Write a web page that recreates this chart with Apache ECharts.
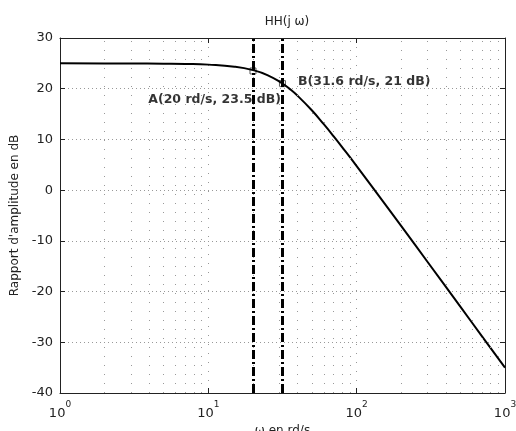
<!DOCTYPE html>
<html>
<head>
<meta charset="utf-8">
<script src="https://cdn.jsdelivr.net/npm/echarts@6/dist/echarts.min.js"></script>
<style>
  html, body { margin: 0; padding: 0; background: #fff; }
  #chart { width: 516px; height: 431px; }
</style>
</head>
<body>
<div id="chart"></div>
<script>
// magnitude curve
const omega = [1, 2, 3, 5, 7, 10, 15, 20, 25, 31.6, 35, 40, 50, 60, 70, 80, 100, 150, 200, 300, 500, 700, 1000];
const gainDb = [25.0, 24.99, 24.98, 24.94, 24.89, 24.75, 24.35, 23.67, 22.69, 21.03, 20.07, 18.6, 15.7, 13.0, 10.6, 8.44, 4.74, -2.16, -7.11, -14.12, -22.98, -28.82, -35.0];

const pointA = [20, 23.5];
const pointB = [31.6, 21];
const cursorLines = [20, 31.6];
const minorX = [2, 3, 4, 5, 6, 7, 8, 9, 20, 30, 40, 50, 60, 70, 80, 90, 200, 300, 400, 500, 600, 700, 800, 900];

const font = 'DejaVu Sans';
const chart = echarts.init(document.getElementById('chart'));

const boxAxis = {
    axisLine: { show: true, onZero: false, lineStyle: { color: '#222', width: 1 } },
    axisTick: { show: true, inside: true, length: 5, lineStyle: { color: '#222' } }
};

chart.setOption({
    animation: false,
    title: {
        text: 'HH(j ω)',
        left: 282, top: 11, textAlign: 'center',
        textStyle: { fontFamily: font, fontSize: 12, fontWeight: 'normal', color: '#222' }
    },
    grid: { left: 60, right: 11, top: 38, bottom: 38, outerBoundsMode: 'none', containLabel: false },
    xAxis: [
        Object.assign({
            type: 'log', logBase: 10, min: 1, max: 1000,
            name: 'ω en rd/s', nameLocation: 'middle', nameGap: 30,
            nameTextStyle: { fontFamily: font, fontSize: 12, color: '#222' },
            axisLabel: {
                margin: 7,
                formatter: v => '{b|10}{s|' + Math.round(Math.log10(v)) + '}',
                rich: {
                    b: { fontFamily: font, fontSize: 13, color: '#222', verticalAlign: 'bottom', lineHeight: 20 },
                    s: { fontFamily: font, fontSize: 9, color: '#222', verticalAlign: 'top', lineHeight: 9 }
                }
            },
            splitLine: { show: true, lineStyle: { color: '#999', type: [1, 8] } }
        }, boxAxis),
        Object.assign({
            type: 'log', logBase: 10, min: 1, max: 1000, position: 'top',
            axisLabel: { show: false }, splitLine: { show: false }
        }, boxAxis)
    ],
    yAxis: [
        Object.assign({
            type: 'value', min: -40, max: 30, interval: 10,
            name: "Rapport d'amplitude en dB", nameLocation: 'middle', nameGap: 33,
            nameTextStyle: { fontFamily: font, fontSize: 12, color: '#222' },
            axisLabel: { fontFamily: font, fontSize: 13, color: '#222', margin: 7 },
            splitLine: { show: true, lineStyle: { color: '#999', type: [1, 3] } }
        }, boxAxis),
        Object.assign({
            type: 'value', min: -40, max: 30, interval: 10, position: 'right',
            axisLabel: { show: false }, splitLine: { show: false }
        }, boxAxis)
    ],
    series: [
        {
            // minor log grid
            type: 'line', data: [], silent: true,
            markLine: {
                silent: true, symbol: 'none', label: { show: false },
                lineStyle: { color: '#999', type: [1, 8], width: 1 },
                data: minorX.map(v => ({ xAxis: v }))
            }
        },
        {
            name: 'HH', type: 'line', smooth: true, symbol: 'none',
            lineStyle: { color: '#000', width: 2 },
            data: omega.map((w, i) => [w, gainDb[i]]),
            markLine: {
                silent: true, symbol: 'none', label: { show: false },
                lineStyle: { color: '#000', type: [9, 3, 2, 3], width: 3 },
                data: cursorLines.map(v => ({ xAxis: v }))
            }
        },
        {
            type: 'scatter', symbol: 'rect', symbolSize: 6,
            itemStyle: { color: 'transparent', borderColor: '#333', borderWidth: 1 },
            label: {
                show: true, fontFamily: font, fontSize: 12.5, fontWeight: 'bold', color: '#000'
            },
            data: [
                {
                    value: pointA,
                    label: { position: 'inside', align: 'right', offset: [28, 29], formatter: 'A(20 rd/s, 23.5 dB)' }
                },
                {
                    value: pointB,
                    label: { position: 'right', distance: 12, offset: [0, -2], formatter: 'B(31.6 rd/s, 21 dB)' }
                }
            ]
        }
    ]
});
window.addEventListener('resize', () => chart.resize());
</script>
</body>
</html>
